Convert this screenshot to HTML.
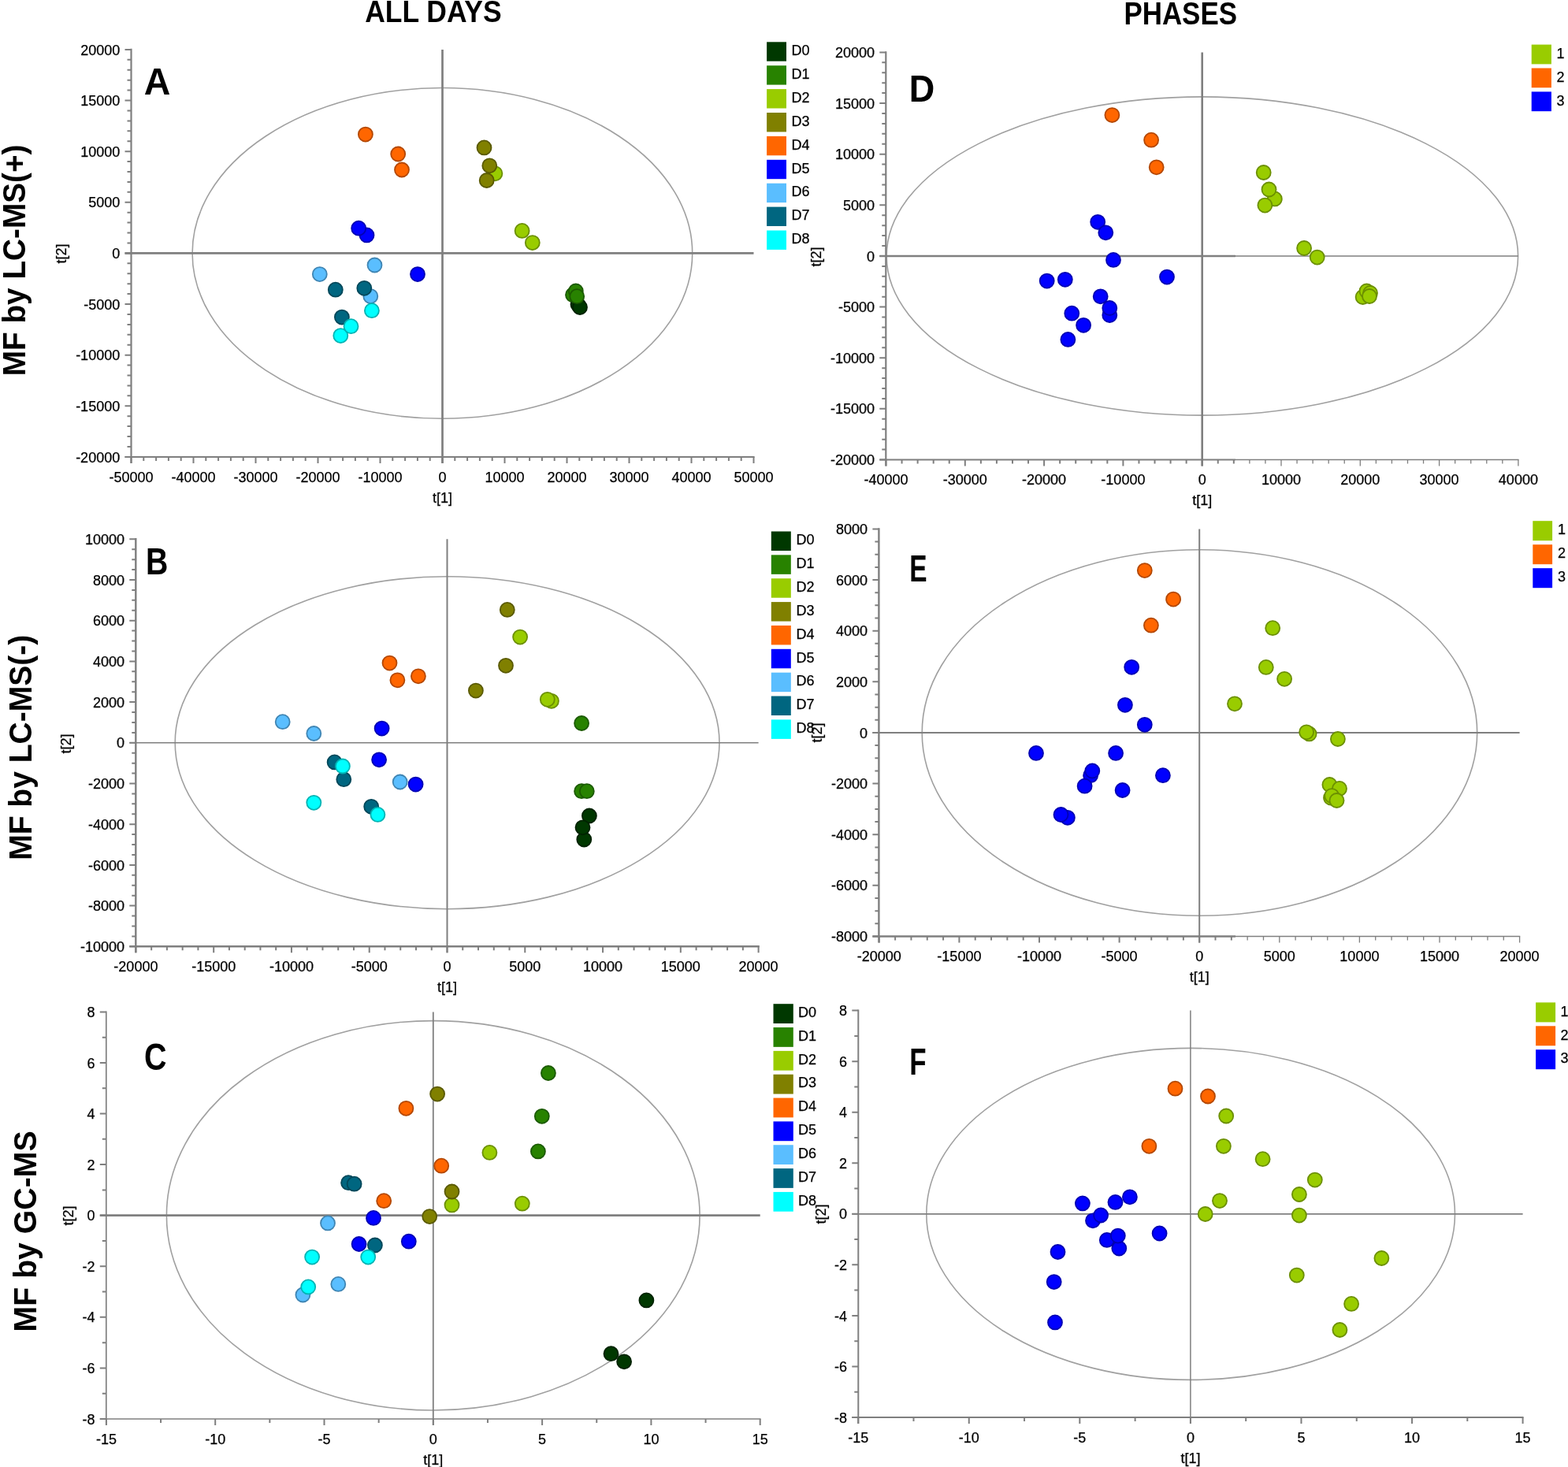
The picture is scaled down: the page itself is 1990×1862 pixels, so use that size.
<!DOCTYPE html>
<html><head><meta charset="utf-8"><title>MF score plots</title>
<style>html,body{margin:0;padding:0;background:#fff;}svg{display:block;}</style>
</head><body>
<svg width="1990" height="1862" viewBox="0 0 1990 1862" font-family="'Liberation Sans', Arial, sans-serif"><rect width="100%" height="100%" fill="#fff"/><ellipse cx="561.4" cy="321.4" rx="317.3" ry="209.9" fill="none" stroke="#a0a0a0" stroke-width="1.6"/>
<line x1="158.5" y1="321.4" x2="956.5" y2="321.4" stroke="#7f7f7f" stroke-width="2.6"/>
<line x1="561.5" y1="62.9" x2="561.5" y2="588" stroke="#7f7f7f" stroke-width="2.7"/>
<line x1="166.5" y1="61.8" x2="166.5" y2="588" stroke="#7f7f7f" stroke-width="2.2"/>
<line x1="158.5" y1="580" x2="957.6" y2="580" stroke="#7f7f7f" stroke-width="2.2"/>
<path d="M166.5 580v8 M182.3 580v5 M198.1 580v5 M213.9 580v5 M229.7 580v5 M245.5 580v8 M261.3 580v5 M277.1 580v5 M292.9 580v5 M308.7 580v5 M324.5 580v8 M340.3 580v5 M356.1 580v5 M371.9 580v5 M387.7 580v5 M403.5 580v8 M419.3 580v5 M435.1 580v5 M450.9 580v5 M466.7 580v5 M482.5 580v8 M498.3 580v5 M514.1 580v5 M529.9 580v5 M545.7 580v5 M561.5 580v8 M577.3 580v5 M593.1 580v5 M608.9 580v5 M624.7 580v5 M640.5 580v8 M656.3 580v5 M672.1 580v5 M687.9 580v5 M703.7 580v5 M719.5 580v8 M735.3 580v5 M751.1 580v5 M766.9 580v5 M782.7 580v5 M798.5 580v8 M814.3 580v5 M830.1 580v5 M845.9 580v5 M861.7 580v5 M877.5 580v8 M893.3 580v5 M909.1 580v5 M924.9 580v5 M940.7 580v5 M956.5 580v8 M166.5 62.9h-8 M166.5 75.83h-5 M166.5 88.75h-5 M166.5 101.67h-5 M166.5 114.6h-5 M166.5 127.53h-8 M166.5 140.45h-5 M166.5 153.38h-5 M166.5 166.3h-5 M166.5 179.22h-5 M166.5 192.15h-8 M166.5 205.08h-5 M166.5 218h-5 M166.5 230.93h-5 M166.5 243.85h-5 M166.5 256.77h-8 M166.5 269.7h-5 M166.5 282.62h-5 M166.5 295.55h-5 M166.5 308.47h-5 M166.5 321.4h-8 M166.5 334.32h-5 M166.5 347.25h-5 M166.5 360.17h-5 M166.5 373.1h-5 M166.5 386.02h-8 M166.5 398.95h-5 M166.5 411.88h-5 M166.5 424.8h-5 M166.5 437.72h-5 M166.5 450.65h-8 M166.5 463.57h-5 M166.5 476.5h-5 M166.5 489.42h-5 M166.5 502.35h-5 M166.5 515.27h-8 M166.5 528.2h-5 M166.5 541.12h-5 M166.5 554.05h-5 M166.5 566.98h-5 M166.5 579.9h-8" stroke="#7f7f7f" stroke-width="2.0" fill="none"/>
<g font-size="18" fill="#000" stroke="#000" stroke-width="0.25"><text x="166.5" y="611.7" text-anchor="middle">-50000</text><text x="245.5" y="611.7" text-anchor="middle">-40000</text><text x="324.5" y="611.7" text-anchor="middle">-30000</text><text x="403.5" y="611.7" text-anchor="middle">-20000</text><text x="482.5" y="611.7" text-anchor="middle">-10000</text><text x="561.5" y="611.7" text-anchor="middle">0</text><text x="640.5" y="611.7" text-anchor="middle">10000</text><text x="719.5" y="611.7" text-anchor="middle">20000</text><text x="798.5" y="611.7" text-anchor="middle">30000</text><text x="877.5" y="611.7" text-anchor="middle">40000</text><text x="956.5" y="611.7" text-anchor="middle">50000</text><text x="152.2" y="69.5" text-anchor="end">20000</text><text x="152.2" y="134.12" text-anchor="end">15000</text><text x="152.2" y="198.75" text-anchor="end">10000</text><text x="152.2" y="263.38" text-anchor="end">5000</text><text x="152.2" y="328" text-anchor="end">0</text><text x="152.2" y="392.62" text-anchor="end">-5000</text><text x="152.2" y="457.25" text-anchor="end">-10000</text><text x="152.2" y="521.88" text-anchor="end">-15000</text><text x="152.2" y="586.5" text-anchor="end">-20000</text><text x="561.5" y="637.7" text-anchor="middle">t[1]</text><text transform="translate(84 322) rotate(-90)" text-anchor="middle">t[2]</text></g>
<text x="182.8" y="120.2" font-size="47.5" font-weight="bold" textLength="33.6" lengthAdjust="spacingAndGlyphs">A</text>
<g font-size="18"><rect x="973.1" y="53.3" width="24.9" height="24.4" fill="#003800"/><text x="1004.4" y="70" stroke="#000" stroke-width="0.25">D0</text><rect x="973.1" y="83.2" width="24.9" height="24.4" fill="#288200"/><text x="1004.4" y="99.9" stroke="#000" stroke-width="0.25">D1</text><rect x="973.1" y="113.1" width="24.9" height="24.4" fill="#99cc00"/><text x="1004.4" y="129.8" stroke="#000" stroke-width="0.25">D2</text><rect x="973.1" y="143" width="24.9" height="24.4" fill="#808000"/><text x="1004.4" y="159.7" stroke="#000" stroke-width="0.25">D3</text><rect x="973.1" y="172.9" width="24.9" height="24.4" fill="#ff6600"/><text x="1004.4" y="189.6" stroke="#000" stroke-width="0.25">D4</text><rect x="973.1" y="202.8" width="24.9" height="24.4" fill="#0000ff"/><text x="1004.4" y="219.5" stroke="#000" stroke-width="0.25">D5</text><rect x="973.1" y="232.7" width="24.9" height="24.4" fill="#5abeff"/><text x="1004.4" y="249.4" stroke="#000" stroke-width="0.25">D6</text><rect x="973.1" y="262.6" width="24.9" height="24.4" fill="#006680"/><text x="1004.4" y="279.3" stroke="#000" stroke-width="0.25">D7</text><rect x="973.1" y="292.5" width="24.9" height="24.4" fill="#00ffff"/><text x="1004.4" y="309.2" stroke="#000" stroke-width="0.25">D8</text></g>
<g stroke-width="1.8"><circle cx="733.5" cy="386.5" r="9.0" fill="#003800" stroke="#002200"/><circle cx="736" cy="390" r="9.0" fill="#003800" stroke="#002200"/><circle cx="727" cy="374.3" r="9.0" fill="#288200" stroke="#1b5a00"/><circle cx="730.8" cy="369.5" r="9.0" fill="#288200" stroke="#1b5a00"/><circle cx="732.2" cy="376.2" r="9.0" fill="#288200" stroke="#1b5a00"/><circle cx="628.4" cy="220.3" r="9.0" fill="#99cc00" stroke="#6b8f00"/><circle cx="662.6" cy="292.9" r="9.0" fill="#99cc00" stroke="#6b8f00"/><circle cx="675.8" cy="308.1" r="9.0" fill="#99cc00" stroke="#6b8f00"/><circle cx="614.5" cy="187.4" r="9.0" fill="#808000" stroke="#595900"/><circle cx="621.3" cy="210.3" r="9.0" fill="#808000" stroke="#595900"/><circle cx="617.7" cy="229" r="9.0" fill="#808000" stroke="#595900"/><circle cx="463.9" cy="170.6" r="9.0" fill="#ff6600" stroke="#b34700"/><circle cx="505.2" cy="195.5" r="9.0" fill="#ff6600" stroke="#b34700"/><circle cx="510" cy="215.5" r="9.0" fill="#ff6600" stroke="#b34700"/><circle cx="465.5" cy="298.4" r="9.0" fill="#0000ff" stroke="#0000b3"/><circle cx="455.2" cy="289.7" r="9.0" fill="#0000ff" stroke="#0000b3"/><circle cx="530" cy="348.1" r="9.0" fill="#0000ff" stroke="#0000b3"/><circle cx="405.8" cy="348.1" r="9.0" fill="#5abeff" stroke="#3f85b3"/><circle cx="475.5" cy="336.5" r="9.0" fill="#5abeff" stroke="#3f85b3"/><circle cx="470.3" cy="376.1" r="9.0" fill="#5abeff" stroke="#3f85b3"/><circle cx="425.8" cy="367.7" r="9.0" fill="#006680" stroke="#004759"/><circle cx="462.3" cy="365.8" r="9.0" fill="#006680" stroke="#004759"/><circle cx="433.9" cy="402.6" r="9.0" fill="#006680" stroke="#004759"/><circle cx="471.9" cy="394.2" r="9.0" fill="#00ffff" stroke="#00b3b3"/><circle cx="432.3" cy="426.1" r="9.0" fill="#00ffff" stroke="#00b3b3"/><circle cx="445.5" cy="414.2" r="9.0" fill="#00ffff" stroke="#00b3b3"/></g>
<ellipse cx="567.6" cy="942.7" rx="345.4" ry="211" fill="none" stroke="#a0a0a0" stroke-width="1.6"/>
<line x1="164.3" y1="942.8" x2="962.6" y2="942.8" stroke="#7f7f7f" stroke-width="1.6"/>
<line x1="567.5" y1="684.3" x2="567.5" y2="1209.3" stroke="#7f7f7f" stroke-width="2.0"/>
<line x1="172.3" y1="683.1" x2="172.3" y2="1209.3" stroke="#7f7f7f" stroke-width="2.4"/>
<line x1="164.3" y1="1201.3" x2="963.8" y2="1201.3" stroke="#7f7f7f" stroke-width="2.4"/>
<path d="M172.4 1201.3v8 M192.16 1201.3v5 M211.91 1201.3v5 M231.67 1201.3v5 M251.42 1201.3v5 M271.18 1201.3v8 M290.93 1201.3v5 M310.69 1201.3v5 M330.44 1201.3v5 M350.19 1201.3v5 M369.95 1201.3v8 M389.71 1201.3v5 M409.46 1201.3v5 M429.22 1201.3v5 M448.97 1201.3v5 M468.73 1201.3v8 M488.48 1201.3v5 M508.24 1201.3v5 M527.99 1201.3v5 M547.75 1201.3v5 M567.5 1201.3v8 M587.25 1201.3v5 M607.01 1201.3v5 M626.76 1201.3v5 M646.52 1201.3v5 M666.27 1201.3v8 M686.03 1201.3v5 M705.78 1201.3v5 M725.54 1201.3v5 M745.29 1201.3v5 M765.05 1201.3v8 M784.8 1201.3v5 M804.56 1201.3v5 M824.31 1201.3v5 M844.07 1201.3v5 M863.82 1201.3v8 M883.58 1201.3v5 M903.33 1201.3v5 M923.09 1201.3v5 M942.85 1201.3v5 M962.6 1201.3v8 M172.3 684.3h-8 M172.3 697.22h-5 M172.3 710.15h-5 M172.3 723.07h-5 M172.3 736h-8 M172.3 748.92h-5 M172.3 761.85h-5 M172.3 774.77h-5 M172.3 787.7h-8 M172.3 800.62h-5 M172.3 813.55h-5 M172.3 826.47h-5 M172.3 839.4h-8 M172.3 852.32h-5 M172.3 865.25h-5 M172.3 878.17h-5 M172.3 891.1h-8 M172.3 904.02h-5 M172.3 916.95h-5 M172.3 929.88h-5 M172.3 942.8h-8 M172.3 955.72h-5 M172.3 968.65h-5 M172.3 981.57h-5 M172.3 994.5h-8 M172.3 1007.42h-5 M172.3 1020.35h-5 M172.3 1033.28h-5 M172.3 1046.2h-8 M172.3 1059.12h-5 M172.3 1072.05h-5 M172.3 1084.97h-5 M172.3 1097.9h-8 M172.3 1110.82h-5 M172.3 1123.75h-5 M172.3 1136.67h-5 M172.3 1149.6h-8 M172.3 1162.53h-5 M172.3 1175.45h-5 M172.3 1188.38h-5 M172.3 1201.3h-8" stroke="#7f7f7f" stroke-width="2.0" fill="none"/>
<g font-size="18" fill="#000" stroke="#000" stroke-width="0.25"><text x="172.4" y="1233" text-anchor="middle">-20000</text><text x="271.18" y="1233" text-anchor="middle">-15000</text><text x="369.95" y="1233" text-anchor="middle">-10000</text><text x="468.73" y="1233" text-anchor="middle">-5000</text><text x="567.5" y="1233" text-anchor="middle">0</text><text x="666.27" y="1233" text-anchor="middle">5000</text><text x="765.05" y="1233" text-anchor="middle">10000</text><text x="863.82" y="1233" text-anchor="middle">15000</text><text x="962.6" y="1233" text-anchor="middle">20000</text><text x="158" y="690.9" text-anchor="end">10000</text><text x="158" y="742.6" text-anchor="end">8000</text><text x="158" y="794.3" text-anchor="end">6000</text><text x="158" y="846" text-anchor="end">4000</text><text x="158" y="897.7" text-anchor="end">2000</text><text x="158" y="949.4" text-anchor="end">0</text><text x="158" y="1001.1" text-anchor="end">-2000</text><text x="158" y="1052.8" text-anchor="end">-4000</text><text x="158" y="1104.5" text-anchor="end">-6000</text><text x="158" y="1156.2" text-anchor="end">-8000</text><text x="158" y="1207.9" text-anchor="end">-10000</text><text x="567.5" y="1259" text-anchor="middle">t[1]</text><text transform="translate(89.9 944) rotate(-90)" text-anchor="middle">t[2]</text></g>
<text x="185" y="729.4" font-size="47.5" font-weight="bold" textLength="28.3" lengthAdjust="spacingAndGlyphs">B</text>
<g font-size="18"><rect x="978.8" y="674.5" width="25" height="24.5" fill="#003800"/><text x="1010.5" y="691.2" stroke="#000" stroke-width="0.25">D0</text><rect x="978.8" y="704.36" width="25" height="24.5" fill="#288200"/><text x="1010.5" y="721.06" stroke="#000" stroke-width="0.25">D1</text><rect x="978.8" y="734.22" width="25" height="24.5" fill="#99cc00"/><text x="1010.5" y="750.92" stroke="#000" stroke-width="0.25">D2</text><rect x="978.8" y="764.08" width="25" height="24.5" fill="#808000"/><text x="1010.5" y="780.78" stroke="#000" stroke-width="0.25">D3</text><rect x="978.8" y="793.94" width="25" height="24.5" fill="#ff6600"/><text x="1010.5" y="810.64" stroke="#000" stroke-width="0.25">D4</text><rect x="978.8" y="823.8" width="25" height="24.5" fill="#0000ff"/><text x="1010.5" y="840.5" stroke="#000" stroke-width="0.25">D5</text><rect x="978.8" y="853.66" width="25" height="24.5" fill="#5abeff"/><text x="1010.5" y="870.36" stroke="#000" stroke-width="0.25">D6</text><rect x="978.8" y="883.52" width="25" height="24.5" fill="#006680"/><text x="1010.5" y="900.22" stroke="#000" stroke-width="0.25">D7</text><rect x="978.8" y="913.38" width="25" height="24.5" fill="#00ffff"/><text x="1010.5" y="930.08" stroke="#000" stroke-width="0.25">D8</text></g>
<g stroke-width="1.8"><circle cx="747.9" cy="1035.5" r="9.0" fill="#003800" stroke="#002200"/><circle cx="741.3" cy="1065.5" r="9.0" fill="#003800" stroke="#002200"/><circle cx="739.5" cy="1050.3" r="9.0" fill="#003800" stroke="#002200"/><circle cx="738.1" cy="918" r="9.0" fill="#288200" stroke="#1b5a00"/><circle cx="738.1" cy="1004.2" r="9.0" fill="#288200" stroke="#1b5a00"/><circle cx="744.8" cy="1004.2" r="9.0" fill="#288200" stroke="#1b5a00"/><circle cx="660.1" cy="808.6" r="9.0" fill="#99cc00" stroke="#6b8f00"/><circle cx="699.9" cy="889.8" r="9.0" fill="#99cc00" stroke="#6b8f00"/><circle cx="694.8" cy="887.8" r="9.0" fill="#99cc00" stroke="#6b8f00"/><circle cx="643.8" cy="773.9" r="9.0" fill="#808000" stroke="#595900"/><circle cx="642" cy="844.8" r="9.0" fill="#808000" stroke="#595900"/><circle cx="603.9" cy="876.6" r="9.0" fill="#808000" stroke="#595900"/><circle cx="494.5" cy="841.6" r="9.0" fill="#ff6600" stroke="#b34700"/><circle cx="504.4" cy="863.3" r="9.0" fill="#ff6600" stroke="#b34700"/><circle cx="530.9" cy="858.3" r="9.0" fill="#ff6600" stroke="#b34700"/><circle cx="484.6" cy="924.6" r="9.0" fill="#0000ff" stroke="#0000b3"/><circle cx="481.1" cy="964.3" r="9.0" fill="#0000ff" stroke="#0000b3"/><circle cx="527.6" cy="995.6" r="9.0" fill="#0000ff" stroke="#0000b3"/><circle cx="358.7" cy="916.2" r="9.0" fill="#5abeff" stroke="#3f85b3"/><circle cx="398.3" cy="931" r="9.0" fill="#5abeff" stroke="#3f85b3"/><circle cx="507.7" cy="992.5" r="9.0" fill="#5abeff" stroke="#3f85b3"/><circle cx="424.6" cy="967.4" r="9.0" fill="#006680" stroke="#004759"/><circle cx="436.3" cy="989.2" r="9.0" fill="#006680" stroke="#004759"/><circle cx="471.2" cy="1023.8" r="9.0" fill="#006680" stroke="#004759"/><circle cx="434.9" cy="972.5" r="9.0" fill="#00ffff" stroke="#00b3b3"/><circle cx="398.3" cy="1018.8" r="9.0" fill="#00ffff" stroke="#00b3b3"/><circle cx="479.4" cy="1033.9" r="9.0" fill="#00ffff" stroke="#00b3b3"/></g>
<ellipse cx="549.75" cy="1542.8" rx="338.35" ry="247.2" fill="none" stroke="#a0a0a0" stroke-width="1.6"/>
<line x1="126.8" y1="1542.7" x2="964.7" y2="1542.7" stroke="#7f7f7f" stroke-width="2.7"/>
<line x1="549.8" y1="1284.4" x2="549.8" y2="1809" stroke="#7f7f7f" stroke-width="1.8"/>
<line x1="134.8" y1="1283.55" x2="134.8" y2="1809" stroke="#7f7f7f" stroke-width="1.7"/>
<line x1="126.8" y1="1801" x2="965.55" y2="1801" stroke="#7f7f7f" stroke-width="1.7"/>
<path d="M134.9 1801v8 M204.05 1801v5 M273.2 1801v8 M342.35 1801v5 M411.5 1801v8 M480.65 1801v5 M549.8 1801v8 M618.95 1801v5 M688.1 1801v8 M757.25 1801v5 M826.4 1801v8 M895.55 1801v5 M964.7 1801v8 M134.8 1284.4h-8 M134.8 1316.69h-5 M134.8 1348.98h-8 M134.8 1381.26h-5 M134.8 1413.55h-8 M134.8 1445.84h-5 M134.8 1478.12h-8 M134.8 1510.41h-5 M134.8 1542.7h-8 M134.8 1574.99h-5 M134.8 1607.28h-8 M134.8 1639.56h-5 M134.8 1671.85h-8 M134.8 1704.14h-5 M134.8 1736.42h-8 M134.8 1768.71h-5 M134.8 1801h-8" stroke="#7f7f7f" stroke-width="2.0" fill="none"/>
<g font-size="18" fill="#000" stroke="#000" stroke-width="0.25"><text x="134.9" y="1832.7" text-anchor="middle">-15</text><text x="273.2" y="1832.7" text-anchor="middle">-10</text><text x="411.5" y="1832.7" text-anchor="middle">-5</text><text x="549.8" y="1832.7" text-anchor="middle">0</text><text x="688.1" y="1832.7" text-anchor="middle">5</text><text x="826.4" y="1832.7" text-anchor="middle">10</text><text x="964.7" y="1832.7" text-anchor="middle">15</text><text x="120.5" y="1291" text-anchor="end">8</text><text x="120.5" y="1355.58" text-anchor="end">6</text><text x="120.5" y="1420.15" text-anchor="end">4</text><text x="120.5" y="1484.72" text-anchor="end">2</text><text x="120.5" y="1549.3" text-anchor="end">0</text><text x="120.5" y="1613.88" text-anchor="end">-2</text><text x="120.5" y="1678.45" text-anchor="end">-4</text><text x="120.5" y="1743.02" text-anchor="end">-6</text><text x="120.5" y="1807.6" text-anchor="end">-8</text><text x="549.8" y="1858.7" text-anchor="middle">t[1]</text><text transform="translate(92.5 1543) rotate(-90)" text-anchor="middle">t[2]</text></g>
<text x="182.9" y="1357.6" font-size="47.5" font-weight="bold" textLength="28.5" lengthAdjust="spacingAndGlyphs">C</text>
<g font-size="18"><rect x="981.5" y="1274.2" width="25.3" height="24.8" fill="#003800"/><text x="1013.1" y="1290.9" stroke="#000" stroke-width="0.25">D0</text><rect x="981.5" y="1304.04" width="25.3" height="24.8" fill="#288200"/><text x="1013.1" y="1320.74" stroke="#000" stroke-width="0.25">D1</text><rect x="981.5" y="1333.88" width="25.3" height="24.8" fill="#99cc00"/><text x="1013.1" y="1350.58" stroke="#000" stroke-width="0.25">D2</text><rect x="981.5" y="1363.72" width="25.3" height="24.8" fill="#808000"/><text x="1013.1" y="1380.42" stroke="#000" stroke-width="0.25">D3</text><rect x="981.5" y="1393.56" width="25.3" height="24.8" fill="#ff6600"/><text x="1013.1" y="1410.26" stroke="#000" stroke-width="0.25">D4</text><rect x="981.5" y="1423.4" width="25.3" height="24.8" fill="#0000ff"/><text x="1013.1" y="1440.1" stroke="#000" stroke-width="0.25">D5</text><rect x="981.5" y="1453.24" width="25.3" height="24.8" fill="#5abeff"/><text x="1013.1" y="1469.94" stroke="#000" stroke-width="0.25">D6</text><rect x="981.5" y="1483.08" width="25.3" height="24.8" fill="#006680"/><text x="1013.1" y="1499.78" stroke="#000" stroke-width="0.25">D7</text><rect x="981.5" y="1512.92" width="25.3" height="24.8" fill="#00ffff"/><text x="1013.1" y="1529.62" stroke="#000" stroke-width="0.25">D8</text></g>
<g stroke-width="1.8"><circle cx="820.4" cy="1650.4" r="9.0" fill="#003800" stroke="#002200"/><circle cx="775.5" cy="1718.2" r="9.0" fill="#003800" stroke="#002200"/><circle cx="792.1" cy="1728.3" r="9.0" fill="#003800" stroke="#002200"/><circle cx="695.9" cy="1362" r="9.0" fill="#288200" stroke="#1b5a00"/><circle cx="687.8" cy="1416.8" r="9.0" fill="#288200" stroke="#1b5a00"/><circle cx="682.9" cy="1461.4" r="9.0" fill="#288200" stroke="#1b5a00"/><circle cx="621.4" cy="1462.9" r="9.0" fill="#99cc00" stroke="#6b8f00"/><circle cx="662.8" cy="1527.7" r="9.0" fill="#99cc00" stroke="#6b8f00"/><circle cx="573.5" cy="1529.4" r="9.0" fill="#99cc00" stroke="#6b8f00"/><circle cx="555.1" cy="1388.6" r="9.0" fill="#808000" stroke="#595900"/><circle cx="573.5" cy="1512.5" r="9.0" fill="#808000" stroke="#595900"/><circle cx="545.2" cy="1544.1" r="9.0" fill="#808000" stroke="#595900"/><circle cx="515.4" cy="1406.8" r="9.0" fill="#ff6600" stroke="#b34700"/><circle cx="560.2" cy="1479.7" r="9.0" fill="#ff6600" stroke="#b34700"/><circle cx="487.2" cy="1524.2" r="9.0" fill="#ff6600" stroke="#b34700"/><circle cx="474" cy="1545.9" r="9.0" fill="#0000ff" stroke="#0000b3"/><circle cx="455.6" cy="1579" r="9.0" fill="#0000ff" stroke="#0000b3"/><circle cx="518.8" cy="1575.7" r="9.0" fill="#0000ff" stroke="#0000b3"/><circle cx="416" cy="1552.4" r="9.0" fill="#5abeff" stroke="#3f85b3"/><circle cx="429.3" cy="1629.9" r="9.0" fill="#5abeff" stroke="#3f85b3"/><circle cx="384.4" cy="1643.5" r="9.0" fill="#5abeff" stroke="#3f85b3"/><circle cx="442.1" cy="1501.2" r="9.0" fill="#006680" stroke="#004759"/><circle cx="449.6" cy="1502.7" r="9.0" fill="#006680" stroke="#004759"/><circle cx="475.9" cy="1580.5" r="9.0" fill="#006680" stroke="#004759"/><circle cx="396.1" cy="1595.6" r="9.0" fill="#00ffff" stroke="#00b3b3"/><circle cx="467.2" cy="1595.6" r="9.0" fill="#00ffff" stroke="#00b3b3"/><circle cx="391.2" cy="1633.4" r="9.0" fill="#00ffff" stroke="#00b3b3"/></g>
<ellipse cx="1525.9" cy="325" rx="400.7" ry="202.1" fill="none" stroke="#a0a0a0" stroke-width="1.6"/>
<line x1="1116.3" y1="324.95" x2="1568" y2="324.95" stroke="#7f7f7f" stroke-width="2.6"/>
<line x1="1568" y1="324.95" x2="1926.9" y2="324.95" stroke="#7f7f7f" stroke-width="1.4"/>
<line x1="1525.7" y1="66.4" x2="1525.7" y2="591.5" stroke="#7f7f7f" stroke-width="2.6"/>
<line x1="1124.3" y1="65.3" x2="1124.3" y2="591.5" stroke="#7f7f7f" stroke-width="2.2"/>
<line x1="1116.3" y1="583.5" x2="1568" y2="583.5" stroke="#7f7f7f" stroke-width="2.2"/>
<line x1="1568" y1="583.5" x2="1927.55" y2="583.5" stroke="#7f7f7f" stroke-width="1.3"/>
<path d="M1124.5 583.5v8 M1144.56 583.5v5 M1164.62 583.5v5 M1184.68 583.5v5 M1204.74 583.5v5 M1224.8 583.5v8 M1244.86 583.5v5 M1264.92 583.5v5 M1284.98 583.5v5 M1305.04 583.5v5 M1325.1 583.5v8 M1345.16 583.5v5 M1365.22 583.5v5 M1385.28 583.5v5 M1405.34 583.5v5 M1425.4 583.5v8 M1445.46 583.5v5 M1465.52 583.5v5 M1485.58 583.5v5 M1505.64 583.5v5 M1525.7 583.5v8 M1545.76 583.5v5 M1565.82 583.5v5 M1124.3 66.4h-8 M1124.3 79.33h-5 M1124.3 92.26h-5 M1124.3 105.18h-5 M1124.3 118.11h-5 M1124.3 131.04h-8 M1124.3 143.97h-5 M1124.3 156.89h-5 M1124.3 169.82h-5 M1124.3 182.75h-5 M1124.3 195.68h-8 M1124.3 208.6h-5 M1124.3 221.53h-5 M1124.3 234.46h-5 M1124.3 247.39h-5 M1124.3 260.31h-8 M1124.3 273.24h-5 M1124.3 286.17h-5 M1124.3 299.1h-5 M1124.3 312.02h-5 M1124.3 324.95h-8 M1124.3 337.88h-5 M1124.3 350.8h-5 M1124.3 363.73h-5 M1124.3 376.66h-5 M1124.3 389.59h-8 M1124.3 402.51h-5 M1124.3 415.44h-5 M1124.3 428.37h-5 M1124.3 441.3h-5 M1124.3 454.23h-8 M1124.3 467.15h-5 M1124.3 480.08h-5 M1124.3 493.01h-5 M1124.3 505.94h-5 M1124.3 518.86h-8 M1124.3 531.79h-5 M1124.3 544.72h-5 M1124.3 557.64h-5 M1124.3 570.57h-5 M1124.3 583.5h-8" stroke="#7f7f7f" stroke-width="2.0" fill="none"/>
<path d="M1585.88 583.5v5 M1605.94 583.5v5 M1626 583.5v8 M1646.06 583.5v5 M1666.12 583.5v5 M1686.18 583.5v5 M1706.24 583.5v5 M1726.3 583.5v8 M1746.36 583.5v5 M1766.42 583.5v5 M1786.48 583.5v5 M1806.54 583.5v5 M1826.6 583.5v8 M1846.66 583.5v5 M1866.72 583.5v5 M1886.78 583.5v5 M1906.84 583.5v5 M1926.9 583.5v8" stroke="#7f7f7f" stroke-width="1.3" fill="none"/>
<g font-size="18" fill="#000" stroke="#000" stroke-width="0.25"><text x="1124.5" y="615.2" text-anchor="middle">-40000</text><text x="1224.8" y="615.2" text-anchor="middle">-30000</text><text x="1325.1" y="615.2" text-anchor="middle">-20000</text><text x="1425.4" y="615.2" text-anchor="middle">-10000</text><text x="1525.7" y="615.2" text-anchor="middle">0</text><text x="1626" y="615.2" text-anchor="middle">10000</text><text x="1726.3" y="615.2" text-anchor="middle">20000</text><text x="1826.6" y="615.2" text-anchor="middle">30000</text><text x="1926.9" y="615.2" text-anchor="middle">40000</text><text x="1110" y="73" text-anchor="end">20000</text><text x="1110" y="137.64" text-anchor="end">15000</text><text x="1110" y="202.28" text-anchor="end">10000</text><text x="1110" y="266.91" text-anchor="end">5000</text><text x="1110" y="331.55" text-anchor="end">0</text><text x="1110" y="396.19" text-anchor="end">-5000</text><text x="1110" y="460.83" text-anchor="end">-10000</text><text x="1110" y="525.46" text-anchor="end">-15000</text><text x="1110" y="590.1" text-anchor="end">-20000</text><text x="1525.7" y="641.2" text-anchor="middle">t[1]</text><text transform="translate(1042 326) rotate(-90)" text-anchor="middle">t[2]</text></g>
<text x="1153.7" y="128.8" font-size="47.5" font-weight="bold" textLength="32.5" lengthAdjust="spacingAndGlyphs">D</text>
<g font-size="18"><rect x="1943.7" y="56.6" width="25.2" height="24.8" fill="#99cc00"/><text x="1975.4" y="73.8" stroke="#000" stroke-width="0.25">1</text><rect x="1943.7" y="86.5" width="25.2" height="24.8" fill="#ff6600"/><text x="1975.4" y="103.7" stroke="#000" stroke-width="0.25">2</text><rect x="1943.7" y="116.4" width="25.2" height="24.8" fill="#0000ff"/><text x="1975.4" y="133.6" stroke="#000" stroke-width="0.25">3</text></g>
<g stroke-width="1.8"><circle cx="1603.7" cy="219" r="9.0" fill="#99cc00" stroke="#6b8f00"/><circle cx="1617.8" cy="252.4" r="9.0" fill="#99cc00" stroke="#6b8f00"/><circle cx="1610.5" cy="240.5" r="9.0" fill="#99cc00" stroke="#6b8f00"/><circle cx="1605.4" cy="260.6" r="9.0" fill="#99cc00" stroke="#6b8f00"/><circle cx="1655.1" cy="315" r="9.0" fill="#99cc00" stroke="#6b8f00"/><circle cx="1671.7" cy="326.6" r="9.0" fill="#99cc00" stroke="#6b8f00"/><circle cx="1729.6" cy="377" r="9.0" fill="#99cc00" stroke="#6b8f00"/><circle cx="1734.5" cy="369.5" r="9.0" fill="#99cc00" stroke="#6b8f00"/><circle cx="1739" cy="372" r="9.0" fill="#99cc00" stroke="#6b8f00"/><circle cx="1738" cy="376" r="9.0" fill="#99cc00" stroke="#6b8f00"/><circle cx="1411.4" cy="146.1" r="9.0" fill="#ff6600" stroke="#b34700"/><circle cx="1461.1" cy="177.7" r="9.0" fill="#ff6600" stroke="#b34700"/><circle cx="1467.7" cy="212.3" r="9.0" fill="#ff6600" stroke="#b34700"/><circle cx="1393.2" cy="281.8" r="9.0" fill="#0000ff" stroke="#0000b3"/><circle cx="1403.3" cy="295.3" r="9.0" fill="#0000ff" stroke="#0000b3"/><circle cx="1413" cy="329.9" r="9.0" fill="#0000ff" stroke="#0000b3"/><circle cx="1328.7" cy="356.6" r="9.0" fill="#0000ff" stroke="#0000b3"/><circle cx="1351.8" cy="354.8" r="9.0" fill="#0000ff" stroke="#0000b3"/><circle cx="1481" cy="351.6" r="9.0" fill="#0000ff" stroke="#0000b3"/><circle cx="1396.7" cy="376.3" r="9.0" fill="#0000ff" stroke="#0000b3"/><circle cx="1408.3" cy="400" r="9.0" fill="#0000ff" stroke="#0000b3"/><circle cx="1408.3" cy="391" r="9.0" fill="#0000ff" stroke="#0000b3"/><circle cx="1360.3" cy="397.7" r="9.0" fill="#0000ff" stroke="#0000b3"/><circle cx="1375.1" cy="412.8" r="9.0" fill="#0000ff" stroke="#0000b3"/><circle cx="1355.4" cy="430.9" r="9.0" fill="#0000ff" stroke="#0000b3"/></g>
<ellipse cx="1522.45" cy="930" rx="352.25" ry="232.3" fill="none" stroke="#a0a0a0" stroke-width="1.6"/>
<line x1="1107.4" y1="929.95" x2="1928.6" y2="929.95" stroke="#7f7f7f" stroke-width="1.9"/>
<line x1="1522.2" y1="671.4" x2="1522.2" y2="1196.5" stroke="#7f7f7f" stroke-width="2.0"/>
<line x1="1115.4" y1="670.2" x2="1115.4" y2="1196.5" stroke="#7f7f7f" stroke-width="2.4"/>
<line x1="1107.4" y1="1188.5" x2="1568" y2="1188.5" stroke="#7f7f7f" stroke-width="2.4"/>
<line x1="1568" y1="1188.5" x2="1929.25" y2="1188.5" stroke="#7f7f7f" stroke-width="1.3"/>
<path d="M1115.8 1188.5v8 M1136.12 1188.5v5 M1156.44 1188.5v5 M1176.76 1188.5v5 M1197.08 1188.5v5 M1217.4 1188.5v8 M1237.72 1188.5v5 M1258.04 1188.5v5 M1278.36 1188.5v5 M1298.68 1188.5v5 M1319 1188.5v8 M1339.32 1188.5v5 M1359.64 1188.5v5 M1379.96 1188.5v5 M1400.28 1188.5v5 M1420.6 1188.5v8 M1440.92 1188.5v5 M1461.24 1188.5v5 M1481.56 1188.5v5 M1501.88 1188.5v5 M1522.2 1188.5v8 M1542.52 1188.5v5 M1562.84 1188.5v5 M1115.4 671.4h-8 M1115.4 687.56h-5 M1115.4 703.72h-5 M1115.4 719.88h-5 M1115.4 736.04h-8 M1115.4 752.2h-5 M1115.4 768.36h-5 M1115.4 784.52h-5 M1115.4 800.67h-8 M1115.4 816.83h-5 M1115.4 832.99h-5 M1115.4 849.15h-5 M1115.4 865.31h-8 M1115.4 881.47h-5 M1115.4 897.63h-5 M1115.4 913.79h-5 M1115.4 929.95h-8 M1115.4 946.11h-5 M1115.4 962.27h-5 M1115.4 978.43h-5 M1115.4 994.59h-8 M1115.4 1010.75h-5 M1115.4 1026.91h-5 M1115.4 1043.07h-5 M1115.4 1059.22h-8 M1115.4 1075.38h-5 M1115.4 1091.54h-5 M1115.4 1107.7h-5 M1115.4 1123.86h-8 M1115.4 1140.02h-5 M1115.4 1156.18h-5 M1115.4 1172.34h-5 M1115.4 1188.5h-8" stroke="#7f7f7f" stroke-width="2.0" fill="none"/>
<path d="M1583.16 1188.5v5 M1603.48 1188.5v5 M1623.8 1188.5v8 M1644.12 1188.5v5 M1664.44 1188.5v5 M1684.76 1188.5v5 M1705.08 1188.5v5 M1725.4 1188.5v8 M1745.72 1188.5v5 M1766.04 1188.5v5 M1786.36 1188.5v5 M1806.68 1188.5v5 M1827 1188.5v8 M1847.32 1188.5v5 M1867.64 1188.5v5 M1887.96 1188.5v5 M1908.28 1188.5v5 M1928.6 1188.5v8" stroke="#7f7f7f" stroke-width="1.3" fill="none"/>
<g font-size="18" fill="#000" stroke="#000" stroke-width="0.25"><text x="1115.8" y="1220.2" text-anchor="middle">-20000</text><text x="1217.4" y="1220.2" text-anchor="middle">-15000</text><text x="1319" y="1220.2" text-anchor="middle">-10000</text><text x="1420.6" y="1220.2" text-anchor="middle">-5000</text><text x="1522.2" y="1220.2" text-anchor="middle">0</text><text x="1623.8" y="1220.2" text-anchor="middle">5000</text><text x="1725.4" y="1220.2" text-anchor="middle">10000</text><text x="1827" y="1220.2" text-anchor="middle">15000</text><text x="1928.6" y="1220.2" text-anchor="middle">20000</text><text x="1101.1" y="678" text-anchor="end">8000</text><text x="1101.1" y="742.64" text-anchor="end">6000</text><text x="1101.1" y="807.27" text-anchor="end">4000</text><text x="1101.1" y="871.91" text-anchor="end">2000</text><text x="1101.1" y="936.55" text-anchor="end">0</text><text x="1101.1" y="1001.19" text-anchor="end">-2000</text><text x="1101.1" y="1065.82" text-anchor="end">-4000</text><text x="1101.1" y="1130.46" text-anchor="end">-6000</text><text x="1101.1" y="1195.1" text-anchor="end">-8000</text><text x="1522.2" y="1246.2" text-anchor="middle">t[1]</text><text transform="translate(1043 930) rotate(-90)" text-anchor="middle">t[2]</text></g>
<text x="1154.3" y="737.6" font-size="47.5" font-weight="bold" textLength="22.3" lengthAdjust="spacingAndGlyphs">E</text>
<g font-size="18"><rect x="1945.3" y="661.2" width="24.8" height="25" fill="#99cc00"/><text x="1977" y="678.4" stroke="#000" stroke-width="0.25">1</text><rect x="1945.3" y="691.2" width="24.8" height="25" fill="#ff6600"/><text x="1977" y="708.4" stroke="#000" stroke-width="0.25">2</text><rect x="1945.3" y="721.2" width="24.8" height="25" fill="#0000ff"/><text x="1977" y="738.4" stroke="#000" stroke-width="0.25">3</text></g>
<g stroke-width="1.8"><circle cx="1615.2" cy="797.2" r="9.0" fill="#99cc00" stroke="#6b8f00"/><circle cx="1606.8" cy="846.9" r="9.0" fill="#99cc00" stroke="#6b8f00"/><circle cx="1630.1" cy="861.8" r="9.0" fill="#99cc00" stroke="#6b8f00"/><circle cx="1567" cy="893.3" r="9.0" fill="#99cc00" stroke="#6b8f00"/><circle cx="1661.6" cy="931.4" r="9.0" fill="#99cc00" stroke="#6b8f00"/><circle cx="1658.1" cy="929.3" r="9.0" fill="#99cc00" stroke="#6b8f00"/><circle cx="1697.9" cy="938" r="9.0" fill="#99cc00" stroke="#6b8f00"/><circle cx="1689" cy="1012.5" r="9.0" fill="#99cc00" stroke="#6b8f00"/><circle cx="1687.4" cy="996" r="9.0" fill="#99cc00" stroke="#6b8f00"/><circle cx="1700" cy="1000.9" r="9.0" fill="#99cc00" stroke="#6b8f00"/><circle cx="1690.2" cy="1010.1" r="9.0" fill="#99cc00" stroke="#6b8f00"/><circle cx="1696.5" cy="1016" r="9.0" fill="#99cc00" stroke="#6b8f00"/><circle cx="1452.8" cy="724.1" r="9.0" fill="#ff6600" stroke="#b34700"/><circle cx="1489.1" cy="760.6" r="9.0" fill="#ff6600" stroke="#b34700"/><circle cx="1460.9" cy="793.7" r="9.0" fill="#ff6600" stroke="#b34700"/><circle cx="1436.2" cy="846.8" r="9.0" fill="#0000ff" stroke="#0000b3"/><circle cx="1427.9" cy="894.8" r="9.0" fill="#0000ff" stroke="#0000b3"/><circle cx="1452.8" cy="919.8" r="9.0" fill="#0000ff" stroke="#0000b3"/><circle cx="1315" cy="955.9" r="9.0" fill="#0000ff" stroke="#0000b3"/><circle cx="1416.1" cy="955.9" r="9.0" fill="#0000ff" stroke="#0000b3"/><circle cx="1384.1" cy="984.2" r="9.0" fill="#0000ff" stroke="#0000b3"/><circle cx="1386.3" cy="978.5" r="9.0" fill="#0000ff" stroke="#0000b3"/><circle cx="1376.6" cy="997.7" r="9.0" fill="#0000ff" stroke="#0000b3"/><circle cx="1424.6" cy="1003" r="9.0" fill="#0000ff" stroke="#0000b3"/><circle cx="1475.9" cy="984.2" r="9.0" fill="#0000ff" stroke="#0000b3"/><circle cx="1354.9" cy="1037.8" r="9.0" fill="#0000ff" stroke="#0000b3"/><circle cx="1346.5" cy="1034" r="9.0" fill="#0000ff" stroke="#0000b3"/></g>
<ellipse cx="1511.15" cy="1540.9" rx="335.35" ry="210.5" fill="none" stroke="#a0a0a0" stroke-width="1.6"/>
<line x1="1081.3" y1="1540.8" x2="1932.6" y2="1540.8" stroke="#7f7f7f" stroke-width="1.8"/>
<line x1="1510.9" y1="1282.6" x2="1510.9" y2="1807" stroke="#7f7f7f" stroke-width="1.5"/>
<line x1="1089.3" y1="1281.6" x2="1089.3" y2="1807" stroke="#7f7f7f" stroke-width="2.0"/>
<line x1="1081.3" y1="1799" x2="1933.6" y2="1799" stroke="#7f7f7f" stroke-width="2.0"/>
<path d="M1089.2 1799v8 M1159.48 1799v5 M1229.77 1799v8 M1300.05 1799v5 M1370.33 1799v8 M1440.62 1799v5 M1510.9 1799v8 M1581.18 1799v5 M1651.47 1799v8 M1721.75 1799v5 M1792.03 1799v8 M1862.32 1799v5 M1932.6 1799v8 M1089.3 1282.6h-8 M1089.3 1314.88h-5 M1089.3 1347.15h-8 M1089.3 1379.42h-5 M1089.3 1411.7h-8 M1089.3 1443.97h-5 M1089.3 1476.25h-8 M1089.3 1508.52h-5 M1089.3 1540.8h-8 M1089.3 1573.07h-5 M1089.3 1605.35h-8 M1089.3 1637.62h-5 M1089.3 1669.9h-8 M1089.3 1702.17h-5 M1089.3 1734.45h-8 M1089.3 1766.72h-5 M1089.3 1799h-8" stroke="#7f7f7f" stroke-width="2.0" fill="none"/>
<g font-size="18" fill="#000" stroke="#000" stroke-width="0.25"><text x="1089.2" y="1830.7" text-anchor="middle">-15</text><text x="1229.77" y="1830.7" text-anchor="middle">-10</text><text x="1370.33" y="1830.7" text-anchor="middle">-5</text><text x="1510.9" y="1830.7" text-anchor="middle">0</text><text x="1651.47" y="1830.7" text-anchor="middle">5</text><text x="1792.03" y="1830.7" text-anchor="middle">10</text><text x="1932.6" y="1830.7" text-anchor="middle">15</text><text x="1075" y="1289.2" text-anchor="end">8</text><text x="1075" y="1353.75" text-anchor="end">6</text><text x="1075" y="1418.3" text-anchor="end">4</text><text x="1075" y="1482.85" text-anchor="end">2</text><text x="1075" y="1547.4" text-anchor="end">0</text><text x="1075" y="1611.95" text-anchor="end">-2</text><text x="1075" y="1676.5" text-anchor="end">-4</text><text x="1075" y="1741.05" text-anchor="end">-6</text><text x="1075" y="1805.6" text-anchor="end">-8</text><text x="1510.9" y="1856.7" text-anchor="middle">t[1]</text><text transform="translate(1047.5 1541) rotate(-90)" text-anchor="middle">t[2]</text></g>
<text x="1154.3" y="1364.4" font-size="47.5" font-weight="bold" textLength="21.3" lengthAdjust="spacingAndGlyphs">F</text>
<g font-size="18"><rect x="1949.1" y="1272.4" width="25" height="25" fill="#99cc00"/><text x="1980.6" y="1289.6" stroke="#000" stroke-width="0.25">1</text><rect x="1949.1" y="1302.3" width="25" height="25" fill="#ff6600"/><text x="1980.6" y="1319.5" stroke="#000" stroke-width="0.25">2</text><rect x="1949.1" y="1332.2" width="25" height="25" fill="#0000ff"/><text x="1980.6" y="1349.4" stroke="#000" stroke-width="0.25">3</text></g>
<g stroke-width="1.8"><circle cx="1556.2" cy="1416.5" r="9.0" fill="#99cc00" stroke="#6b8f00"/><circle cx="1552.9" cy="1454.8" r="9.0" fill="#99cc00" stroke="#6b8f00"/><circle cx="1548" cy="1524.1" r="9.0" fill="#99cc00" stroke="#6b8f00"/><circle cx="1529.7" cy="1541" r="9.0" fill="#99cc00" stroke="#6b8f00"/><circle cx="1602.6" cy="1471.2" r="9.0" fill="#99cc00" stroke="#6b8f00"/><circle cx="1668.8" cy="1497.6" r="9.0" fill="#99cc00" stroke="#6b8f00"/><circle cx="1648.9" cy="1516" r="9.0" fill="#99cc00" stroke="#6b8f00"/><circle cx="1648.9" cy="1542.6" r="9.0" fill="#99cc00" stroke="#6b8f00"/><circle cx="1753.4" cy="1597" r="9.0" fill="#99cc00" stroke="#6b8f00"/><circle cx="1645.8" cy="1618.6" r="9.0" fill="#99cc00" stroke="#6b8f00"/><circle cx="1715.1" cy="1654.9" r="9.0" fill="#99cc00" stroke="#6b8f00"/><circle cx="1700.4" cy="1688" r="9.0" fill="#99cc00" stroke="#6b8f00"/><circle cx="1491.5" cy="1381.7" r="9.0" fill="#ff6600" stroke="#b34700"/><circle cx="1533" cy="1391.5" r="9.0" fill="#ff6600" stroke="#b34700"/><circle cx="1458.4" cy="1454.8" r="9.0" fill="#ff6600" stroke="#b34700"/><circle cx="1373.9" cy="1527.4" r="9.0" fill="#0000ff" stroke="#0000b3"/><circle cx="1415.5" cy="1525.9" r="9.0" fill="#0000ff" stroke="#0000b3"/><circle cx="1433.9" cy="1519.3" r="9.0" fill="#0000ff" stroke="#0000b3"/><circle cx="1387" cy="1549.3" r="9.0" fill="#0000ff" stroke="#0000b3"/><circle cx="1397.1" cy="1542.5" r="9.0" fill="#0000ff" stroke="#0000b3"/><circle cx="1404.8" cy="1573.9" r="9.0" fill="#0000ff" stroke="#0000b3"/><circle cx="1420.3" cy="1584.5" r="9.0" fill="#0000ff" stroke="#0000b3"/><circle cx="1418.8" cy="1568.6" r="9.0" fill="#0000ff" stroke="#0000b3"/><circle cx="1471.6" cy="1565.5" r="9.0" fill="#0000ff" stroke="#0000b3"/><circle cx="1342.5" cy="1589" r="9.0" fill="#0000ff" stroke="#0000b3"/><circle cx="1337.7" cy="1627.1" r="9.0" fill="#0000ff" stroke="#0000b3"/><circle cx="1339" cy="1678.4" r="9.0" fill="#0000ff" stroke="#0000b3"/></g>
<text x="463.2" y="27.7" font-size="38" font-weight="bold" textLength="173.4" lengthAdjust="spacingAndGlyphs">ALL DAYS</text>
<text x="1426.4" y="30.7" font-size="40" font-weight="bold" textLength="143.6" lengthAdjust="spacingAndGlyphs">PHASES</text>
<text transform="translate(31.8 477.2) rotate(-90)" font-size="40" font-weight="bold" textLength="293.6" lengthAdjust="spacingAndGlyphs">MF by LC-MS(+)</text>
<text transform="translate(39.5 1091.8) rotate(-90)" font-size="40" font-weight="bold" textLength="286" lengthAdjust="spacingAndGlyphs">MF by LC-MS(-)</text>
<text transform="translate(45.5 1690.4) rotate(-90)" font-size="40" font-weight="bold" textLength="255" lengthAdjust="spacingAndGlyphs">MF by GC-MS</text></svg>
</body></html>
